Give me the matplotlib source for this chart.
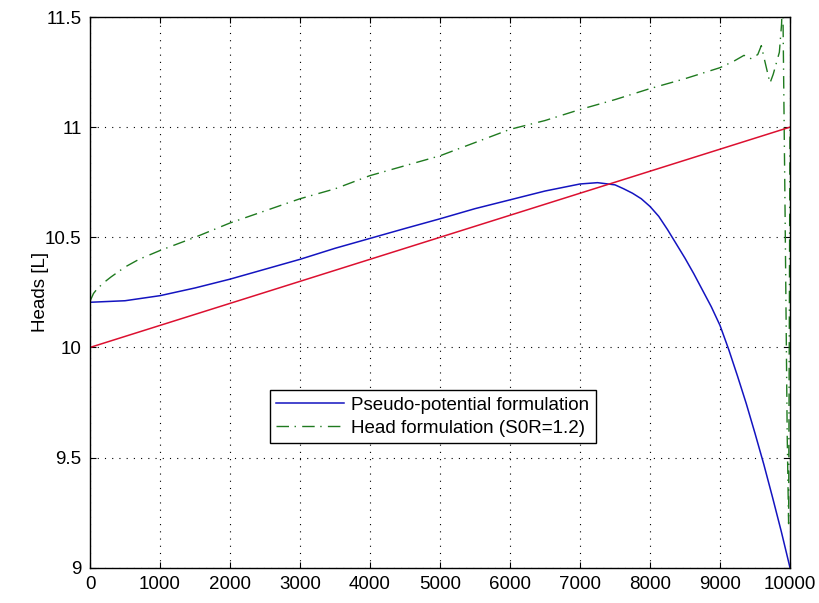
import matplotlib
matplotlib.use("Agg")
import matplotlib.pyplot as plt
import numpy as np

plt.rcParams['font.family'] = ['Liberation Sans', 'DejaVu Sans']

# Red reference line (linear)
red_x = [0, 10000]
red_y = [10.0, 11.0]

# Pseudo-potential formulation (blue)
blue_x = [0, 500, 1000, 1500, 2000, 2500, 3000, 3500, 4000, 4500, 5000, 5500,
          6000, 6500, 7000, 7250, 7500, 7625, 7750, 7875, 8000, 8125, 8250,
          8375, 8500, 8625, 8750, 8875, 9000, 9125, 9250, 9375, 9500, 9625,
          9750, 9875, 10000]
blue_y = [10.205, 10.212, 10.235, 10.27, 10.31, 10.355, 10.40, 10.45, 10.495,
          10.54, 10.584, 10.63, 10.67, 10.71, 10.742, 10.748, 10.738, 10.72,
          10.70, 10.675, 10.64, 10.595, 10.535, 10.47, 10.405, 10.335, 10.26,
          10.185, 10.10, 9.99, 9.87, 9.745, 9.61, 9.47, 9.32, 9.165, 9.00]

# Head formulation (SOR=1.2) (green)
green_x = [0, 50, 100, 200, 300, 500, 700, 1000, 1500, 2000, 2500, 3000, 3500,
           4000, 4500, 5000, 5500, 6000, 6500, 7000, 7500, 8000, 8500, 9000,
           9200, 9343, 9450, 9540, 9590, 9640, 9714, 9760, 9848, 9880, 9895,
           9930, 9960, 9980, 10000]
green_y = [10.21, 10.245, 10.265, 10.295, 10.32, 10.365, 10.40, 10.44, 10.50,
           10.565, 10.62, 10.675, 10.72, 10.78, 10.825, 10.87, 10.93, 10.99,
           11.03, 11.08, 11.125, 11.175, 11.22, 11.27, 11.30, 11.326, 11.31,
           11.33, 11.37, 11.30, 11.20, 11.24, 11.34, 11.47, 11.65, 10.6, 9.6,
           9.2, 11.0]

legend_labels = ['Pseudo-potential formulation', 'Head formulation (S0R=1.2)']
x_ticks = [0, 1000, 2000, 3000, 4000, 5000, 6000, 7000, 8000, 9000, 10000]
y_ticks = [9, 9.5, 10, 10.5, 11, 11.5]
y_tick_labels = ['9', '9.5', '10', '10.5', '11', '11.5']

fig = plt.figure(figsize=(8.19, 6.03), dpi=100)
ax = fig.add_axes([0.1099, 0.0585, 0.8547, 0.9133])

l1, = ax.plot(blue_x, blue_y, color='#1414c0', lw=1.1, label=legend_labels[0])
l2, = ax.plot(green_x, green_y, color='#1f7a1f', lw=1.0,
              linestyle=(0, (9, 4, 1, 4.5)), label=legend_labels[1])
ax.plot(red_x, red_y, color='#dc1030', lw=1.1)

ax.set_xlim(0, 10000)
ax.set_ylim(9, 11.5)
ax.set_xticks(x_ticks)
ax.set_xticklabels([str(t) for t in x_ticks])
ax.set_yticks(y_ticks)
ax.set_yticklabels(y_tick_labels)

ax.grid(True, color='black', linestyle=(0, (1, 5.5)), linewidth=0.8)
ax.tick_params(direction='in', length=4.5, width=0.8, top=True, right=True,
               labelsize=13.5, colors='black')
ax.tick_params(axis='y', pad=6)
ax.tick_params(axis='x', pad=6)
for s in ax.spines.values():
    s.set_linewidth(1.0)
    s.set_color('black')

ax.set_ylabel('Heads [L]', fontsize=13.5, labelpad=-3)

leg = ax.legend(handles=[l1, l2], loc='lower left',
                bbox_to_anchor=(0.257, 0.226), borderaxespad=0,
                fontsize=13.5, fancybox=False, framealpha=1,
                edgecolor='black', handlelength=3.6, handletextpad=0.4,
                borderpad=0.35, labelspacing=0.3)
leg.get_frame().set_linewidth(1.0)

fig.savefig('out.png', dpi=100)
